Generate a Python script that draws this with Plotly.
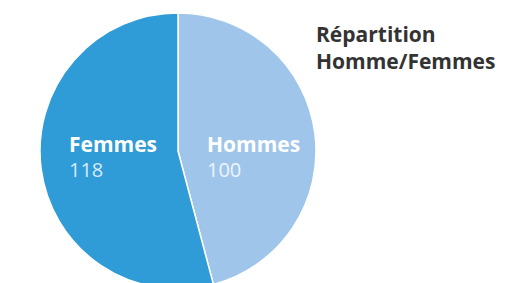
import plotly.graph_objects as go

labels = ["Hommes", "Femmes"]
values = [100, 118]
colors = ["#9FC6EA", "#2F9BD7"]
title_lines = ["Répartition", "Homme/Femmes"]

W, H = 515, 290

fig = go.Figure(go.Pie(
    labels=labels,
    values=values,
    sort=False,
    direction="clockwise",
    rotation=0,
    marker=dict(colors=colors, line=dict(color="white", width=1.5)),
    textinfo="none",
    hoverinfo="label+value",
    domain=dict(x=[40 / W, 316 / W], y=[1 - 289 / H, 1 - 13 / H]),
    showlegend=False,
))

font_family = "Open Sans, Roboto, sans-serif"
annotations = []
label_pos = {"Femmes": 67, "Hommes": 205}
for lab, val in zip(labels, values):
    x0 = label_pos[lab]
    annotations.append(dict(
        x=x0 / W, y=1 - 144 / H, xref="paper", yref="paper",
        xanchor="left", yanchor="middle", showarrow=False,
        text="<b>" + lab + "</b>",
        font=dict(family=font_family, size=21, color="white"),
    ))
    annotations.append(dict(
        x=x0 / W, y=1 - 169 / H, xref="paper", yref="paper",
        xanchor="left", yanchor="middle", showarrow=False,
        text=str(val),
        font=dict(family=font_family, size=20,
                  color="#D6EBF9" if lab == "Femmes" else "#EEF5FC"),
    ))

annotations.append(dict(
    x=314 / W, y=1 - 47 / H, xref="paper", yref="paper",
    xanchor="left", yanchor="middle", showarrow=False, align="left",
    text="<b>" + title_lines[0] + "<br>" + title_lines[1] + "</b>",
    font=dict(family=font_family, size=21, color="#333333"),
))

fig.update_layout(
    width=W, height=H,
    margin=dict(l=0, r=0, t=0, b=0),
    paper_bgcolor="white", plot_bgcolor="white",
    annotations=annotations,
)

fig.write_html(
    "out.html",
    config={"displayModeBar": False},
    post_script="document.body.style.margin='0';document.body.style.overflow='hidden';",
)
